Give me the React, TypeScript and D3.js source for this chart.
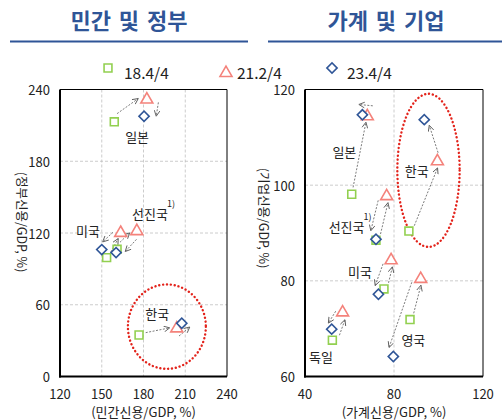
import React from "react";
import * as d3 from "d3";

// Periods compared in each panel
const periods = ["18.4/4", "21.2/4", "23.4/4"];

// Panel 1: private credit vs government credit (% of GDP)
const countriesL = ["일본", "선진국", "미국", "한국"];
const privateCredit = [
  [159, 182.4, 180.4],
  [161, 175.2, 160.3],
  [153.5, 163.6, 150],
  [176.8, 203.9, 207.5],
];
const govCredit = [
  [213, 232.4, 217.6],
  [106.4, 122.4, 103.6],
  [99.4, 120.9, 106.1],
  [34.7, 41, 44.5],
];

// Panel 2: household credit vs corporate credit (% of GDP)
const countriesR = ["일본", "한국", "선진국", "미국", "영국", "독일"];
const householdCredit = [
  [61, 68, 65.8],
  [86.7, 99.5, 93.6],
  [71.9, 76.7, 71.9],
  [75.5, 78.7, 73],
  [87.2, 92, 79.7],
  [52.3, 56.9, 52],
];
const corporateCredit = [
  [98.1, 114.6, 114.7],
  [90.4, 105.2, 113.7],
  [88.5, 97.9, 88.7],
  [78.3, 84.5, 77.2],
  [71.9, 80.6, 64.2],
  [67.6, 73.6, 69.9],
];

// Axis ticks
const xTicksL = [120, 150, 180, 210, 240];
const yTicksL = [0, 60, 120, 180, 240];
const xTicksR = [40, 80, 120];
const yTicksR = [60, 80, 100, 120];

// Country labels placed in data coordinates: [name, x, y, superscript]
const labelsL: [string, number, number, boolean][] = [
  ["일본", 175.4, 200.3, false],
  ["선진국", 184.7, 136.4, true],
  ["미국", 140.1, 122.4, false],
  ["한국", 189.8, 52.9, false],
];
const labelsR: [string, number, number, boolean][] = [
  ["일본", 57.7, 107.1, false],
  ["한국", 90.2, 103.1, false],
  ["선진국", 58.7, 91.3, true],
  ["미국", 64.7, 81.9, false],
  ["영국", 88.7, 67.7, false],
  ["독일", 47.2, 64.2, false],
];

// Movement arrows: [country index, from period, to period, side offset px]
const arrowsL: [number, number, number, number][] = [
  [0, 0, 1, 5], [0, 1, 2, 12],
  [1, 0, 1, 3], [1, 1, 2, 6],
  [2, 0, 1, -1], [2, 1, 2, -5],
  [3, 0, 1, 1], [3, 1, 2, -8],
];
const arrowsR: [number, number, number, number][] = [
  [0, 0, 1, 0], [0, 1, 2, -10],
  [1, 0, 1, -3], [1, 1, 2, -3],
  [2, 0, 1, -3], [2, 1, 2, -7],
  [3, 0, 1, -3], [3, 1, 2, -6],
  [4, 0, 1, -2], [4, 1, 2, -7],
  [5, 0, 1, -5], [5, 1, 2, -6],
];

// Highlight ellipse around Korea: [cx, cy, rx, ry] in data units
const highlightL = [196.8, 41.7, 28, 35.3];
const highlightR = [95.5, 103.1, 14, 16];

const FONT = "'Noto Sans CJK KR', 'Noto Sans', sans-serif";
const TITLE_BLUE = "#2F5597";
const SERIES = [
  { color: "#92D050", shape: "square" },
  { color: "#F4827B", shape: "triangle" },
  { color: "#2F5597", shape: "diamond" },
];

function symbolPath(shape: string) {
  if (shape === "square") return d3.symbol(d3.symbolSquare, 62)()!;
  if (shape === "triangle") return d3.symbol(d3.symbolTriangle, 62)()!;
  return d3.symbol(d3.symbolSquare, 52)()!;
}

function Marker({ shape, color, x, y }: { shape: string; color: string; x: number; y: number }) {
  const rot = shape === "diamond" ? 45 : 0;
  const dy = shape === "triangle" ? 1 : 0;
  return (
    <path
      d={symbolPath(shape)}
      transform={`translate(${x},${y + dy}) rotate(${rot})`}
      fill="white"
      stroke={color}
      strokeWidth={1.6}
    />
  );
}

type PanelProps = {
  id: string;
  x0: number; x1: number; y0: number; y1: number;
  xDomain: [number, number]; yDomain: [number, number];
  xTicks: number[]; yTicks: number[];
  xs: number[][]; ys: number[][];
  labels: [string, number, number, boolean][];
  arrows: [number, number, number, number][];
  highlight: number[];
  xTitle: string; yTitle: string; yTitleX: number; yTitleY: number;
};

function Panel(p: PanelProps) {
  const x = d3.scaleLinear().domain(p.xDomain).range([p.x0, p.x1]);
  const y = d3.scaleLinear().domain(p.yDomain).range([p.y1, p.y0]);
  const [hx, hy, hrx, hry] = p.highlight;

  const arrowLines = p.arrows.map(([c, a, b, off], i) => {
    const ax = x(p.xs[c][a]), ay = y(p.ys[c][a]);
    const bx = x(p.xs[c][b]), by = y(p.ys[c][b]);
    const L = Math.hypot(bx - ax, by - ay);
    const dx = (bx - ax) / L, dy = (by - ay) / L;
    const gap = 7;
    let sx, sy, ex, ey;
    if (L - 2 * gap < 12) {
      const mx = (ax + bx) / 2, my = (ay + by) / 2;
      sx = mx - dx * 7; sy = my - dy * 7; ex = mx + dx * 7; ey = my + dy * 7;
    } else {
      sx = ax + dx * gap; sy = ay + dy * gap; ex = bx - dx * gap; ey = by - dy * gap;
    }
    const px = dy * off, py = -dx * off;
    return (
      <line
        key={i}
        x1={sx + px} y1={sy + py} x2={ex + px} y2={ey + py}
        stroke="#595959" strokeWidth={0.8} strokeDasharray="2,1.5"
        markerEnd={`url(#head-${p.id})`}
      />
    );
  });

  return (
    <g>
      <defs>
        <marker id={`head-${p.id}`} viewBox="0 0 8 8" refX={7} refY={4}
          markerWidth={7} markerHeight={7} markerUnits="userSpaceOnUse" orient="auto">
          <path d="M0.5,0.8 L7,4 L0.5,7.2" fill="none" stroke="#595959" strokeWidth={1} />
        </marker>
      </defs>
      {/* grid */}
      {p.xTicks.slice(1, -1).map((t) => (
        <line key={`gx${t}`} x1={x(t)} x2={x(t)} y1={p.y0} y2={p.y1}
          stroke="#BFBFBF" strokeWidth={0.8} strokeDasharray="3,2" />
      ))}
      {p.yTicks.slice(1, -1).map((t) => (
        <line key={`gy${t}`} y1={y(t)} y2={y(t)} x1={p.x0} x2={p.x1}
          stroke="#BFBFBF" strokeWidth={0.8} strokeDasharray="3,2" />
      ))}
      {/* frame */}
      <line x1={p.x0} x2={p.x1} y1={p.y0} y2={p.y0} stroke="#000" strokeWidth={1} />
      <line x1={p.x1} x2={p.x1} y1={p.y0} y2={p.y1} stroke="#000" strokeWidth={1} />
      <line x1={p.x0} x2={p.x0} y1={p.y0} y2={p.y1 + 1} stroke="#000" strokeWidth={2} />
      <line x1={p.x0 - 1} x2={p.x1} y1={p.y1} y2={p.y1} stroke="#000" strokeWidth={2} />
      {/* tick labels */}
      {p.xTicks.map((t) => (
        <text key={`tx${t}`} x={x(t)} y={p.y1 + 17} textAnchor="middle"
          dominantBaseline="central" fontSize={13} fill="#222" fontFamily={FONT}>{t}</text>
      ))}
      {p.yTicks.map((t) => (
        <text key={`ty${t}`} x={p.x0 - 10} y={y(t)} textAnchor="end"
          dominantBaseline="central" fontSize={13} fill="#222" fontFamily={FONT}>{t}</text>
      ))}
      <text x={(p.x0 + p.x1) / 2} y={411} textAnchor="middle" dominantBaseline="central"
        fontSize={13} fill="#222" fontFamily={FONT}>{p.xTitle}</text>
      <text transform={`translate(${p.yTitleX},${p.yTitleY}) rotate(90)`} textAnchor="middle"
        dominantBaseline="central" fontSize={12.5} fill="#222" fontFamily={FONT}>{p.yTitle}</text>
      {/* highlight */}
      <ellipse cx={x(hx)} cy={y(hy)}
        rx={Math.abs(x(hx + hrx) - x(hx))} ry={Math.abs(y(hy + hry) - y(hy))}
        fill="none" stroke="#E3231B" strokeWidth={2.4} strokeDasharray="0.1,3.8" strokeLinecap="round" />
      {arrowLines}
      {/* markers, by period */}
      {SERIES.map((s, k) =>
        p.xs.map((row, c) => (
          <Marker key={`m${k}-${c}`} shape={s.shape} color={s.color} x={x(row[k])} y={y(p.ys[c][k])} />
        ))
      )}
      {/* country labels */}
      {p.labels.map(([name, lx, ly, sup]) => (
        <g key={name}>
          <text x={x(lx)} y={y(ly)} textAnchor="middle" dominantBaseline="central"
            fontSize={13} fill="#222" fontFamily={FONT}>{name}</text>
          {sup && (
            <text x={x(lx) + 21} y={y(ly) - 10} textAnchor="middle" dominantBaseline="central"
              fontSize={9} fill="#222" fontFamily={FONT}>1)</text>
          )}
        </g>
      ))}
    </g>
  );
}

export default function App() {
  const legendMarkX = [108, 226, 332];
  const legendTextX = [124, 237, 347];
  return (
    <svg width={502} height={420} style={{ position: "absolute", left: 0, top: 0, background: "white" }}>
      {/* panel titles */}
      <text x={129} y={19} textAnchor="middle" dominantBaseline="central" fontSize={22}
        fontWeight="bold" fill={TITLE_BLUE} fontFamily={FONT} wordSpacing={3}>민간 및 정부</text>
      <text x={386} y={19} textAnchor="middle" dominantBaseline="central" fontSize={22}
        fontWeight="bold" fill={TITLE_BLUE} fontFamily={FONT} wordSpacing={3}>가계 및 기업</text>
      <line x1={10} x2={248} y1={41.5} y2={41.5} stroke={TITLE_BLUE} strokeWidth={2} />
      <line x1={268} x2={502} y1={41.5} y2={41.5} stroke={TITLE_BLUE} strokeWidth={2} />

      {/* legend */}
      {periods.map((label, k) => (
        <g key={label}>
          <Marker shape={SERIES[k].shape} color={SERIES[k].color} x={legendMarkX[k]} y={k === 1 ? 72 : 68} />
          <text x={legendTextX[k]} y={72} dominantBaseline="central" fontSize={15.5}
            fill="#222" fontFamily={FONT}>{label}</text>
        </g>
      ))}

      <Panel
        id="l" x0={60} x1={227} y0={89.5} y1={376.5}
        xDomain={[120, 240]} yDomain={[0, 240]} xTicks={xTicksL} yTicks={yTicksL}
        xs={privateCredit} ys={govCredit} labels={labelsL} arrows={arrowsL} highlight={highlightL}
        xTitle="(민간신용/GDP, %)" yTitle="(정부신용/GDP, %)" yTitleX={22} yTitleY={222}
      />
      <Panel
        id="r" x0={305} x1={483} y0={89.5} y1={376.5}
        xDomain={[40, 120]} yDomain={[60, 120]} xTicks={xTicksR} yTicks={yTicksR}
        xs={householdCredit} ys={corporateCredit} labels={labelsR} arrows={arrowsR} highlight={highlightR}
        xTitle="(가계신용/GDP, %)" yTitle="(기업신용/GDP, %)" yTitleX={264} yTitleY={218}
      />
    </svg>
  );
}
